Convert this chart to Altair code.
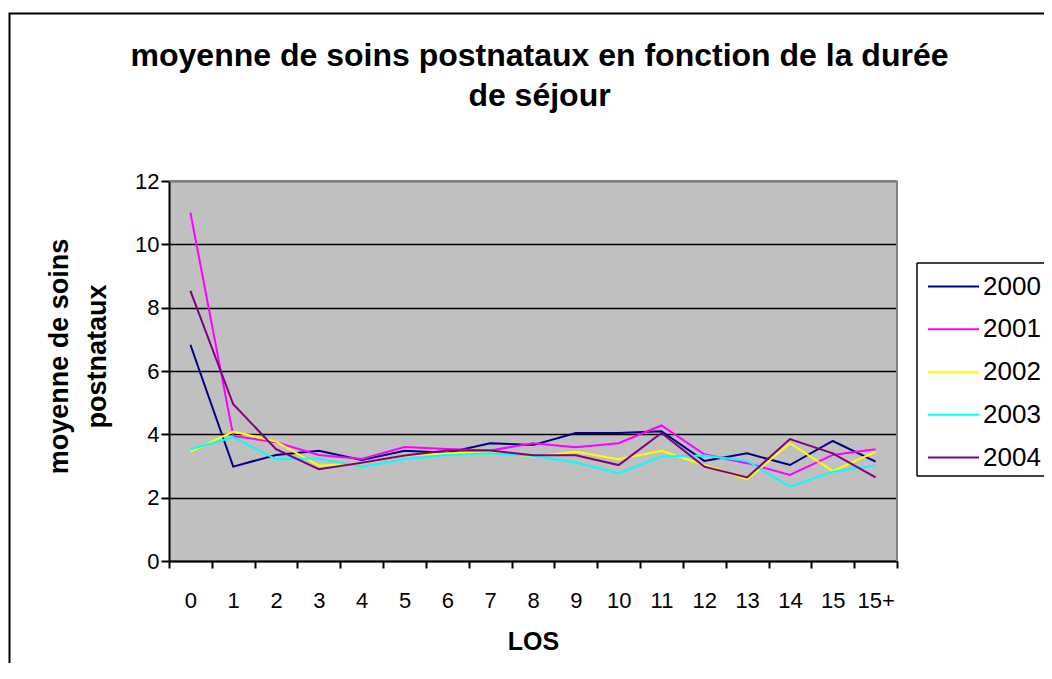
import altair as alt
import pandas as pd

# ---- data ----
categories = ["0", "1", "2", "3", "4", "5", "6", "7", "8", "9", "10",
              "11", "12", "13", "14", "15", "15+"]
years = ["2000", "2001", "2002", "2003", "2004"]
v2000 = [6.83, 2.98, 3.35, 3.48, 3.19, 3.48, 3.42, 3.72, 3.66, 4.04, 4.04, 4.10, 3.16, 3.40, 3.03, 3.79, 3.14]
v2001 = [11.0, 3.95, 3.75, 3.35, 3.22, 3.60, 3.54, 3.49, 3.72, 3.59, 3.72, 4.28, 3.37, 3.09, 2.72, 3.35, 3.53]
v2002 = [3.45, 4.09, 3.77, 3.01, 3.09, 3.33, 3.40, 3.44, 3.30, 3.45, 3.21, 3.48, 3.03, 2.58, 3.72, 2.84, 3.45]
v2003 = [3.53, 3.91, 3.21, 3.24, 2.98, 3.21, 3.35, 3.40, 3.32, 3.11, 2.77, 3.30, 3.33, 3.16, 2.35, 2.82, 3.02]
v2004 = [8.53, 4.95, 3.53, 2.90, 3.10, 3.33, 3.49, 3.49, 3.34, 3.34, 3.03, 4.04, 2.98, 2.64, 3.85, 3.40, 2.64]
colors = ["#000080", "#FF00FF", "#FFFF00", "#00FFFF", "#800080"]
y_ticks = [0, 2, 4, 6, 8, 10, 12]

title_lines = ["moyenne de soins postnataux en fonction de la durée", "de séjour"]
y_title = ["moyenne de soins", "postnataux"]
x_title = "LOS"

rows = []
for yr, vals in zip(years, [v2000, v2001, v2002, v2003, v2004]):
    for c, v in zip(categories, vals):
        rows.append({"LOS": c, "year": yr, "value": v})
df = pd.DataFrame(rows)

FONT = "Liberation Sans"
W, H = 728, 380

lines = alt.Chart(df).mark_line(strokeWidth=2).encode(
    x=alt.X("LOS:N", sort=categories, bandPosition=0.5,
            scale=alt.Scale(type="band", paddingInner=0, paddingOuter=0),
            axis=alt.Axis(title=x_title, labelAngle=0, tickBand="extent", grid=False,
                          tickSize=7, tickWidth=2, tickColor="black",
                          domainColor="black", domainWidth=2,
                          labelFont=FONT, labelFontSize=22, labelColor="black", labelPadding=22,
                          titleFont=FONT, titleFontSize=25, titleFontWeight="bold", titleColor="black",
                          titleY=80, titleBaseline="middle")),
    y=alt.Y("value:Q", scale=alt.Scale(domain=[0, 12], nice=False),
            axis=alt.Axis(title=y_title, values=y_ticks, grid=True, gridColor="black", gridWidth=1.5,
                          tickSize=8, tickWidth=2, tickColor="black",
                          domainColor="black", domainWidth=2,
                          labelFont=FONT, labelFontSize=22, labelColor="black", labelPadding=2,
                          titleFont=FONT, titleFontSize=27, titleFontWeight="bold", titleColor="black",
                          titleLineHeight=38, titleX=-110, titleY=175, titleAlign="center",
                          titleBaseline="middle", titleAngle=270)),
    color=alt.Color("year:N", scale=alt.Scale(domain=years, range=colors),
                    legend=alt.Legend(title=None, orient="none", legendX=758, legendY=79,
                                      direction="vertical", symbolType="stroke", symbolSize=2601,
                                      symbolStrokeWidth=2, labelFont=FONT, labelFontSize=26,
                                      labelColor="black", strokeColor="transparent",
                                      padding=0, rowPadding=2.75, labelOffset=3, symbolOffset=0)),
)

one = pd.DataFrame({"k": [0]})
rule = dict(color="black", strokeWidth=1.5)
leg_left = alt.Chart(one).mark_rule(**rule).encode(
    x=alt.value(748), y=alt.value(82), y2=alt.value(295))
leg_top = alt.Chart(one).mark_rule(**rule).encode(
    x=alt.value(748), x2=alt.value(1000), y=alt.value(82))
leg_bottom = alt.Chart(one).mark_rule(**rule).encode(
    x=alt.value(748), x2=alt.value(1000), y=alt.value(295))
top_edge = alt.Chart(one).mark_rule(color="#808080", strokeWidth=2).encode(
    x=alt.value(0), x2=alt.value(W), y=alt.value(0))
right_edge = alt.Chart(one).mark_rule(color="#808080", strokeWidth=2).encode(
    x=alt.value(W), y=alt.value(0), y2=alt.value(H))
frame = alt.Chart(one).mark_rect(fill="transparent", stroke="black", strokeWidth=2).encode(
    x=alt.value(-159.5), x2=alt.value(1000), y=alt.value(-167.5), y2=alt.value(700))
title = alt.Chart(one).mark_text(font=FONT, fontSize=32, fontWeight="bold", color="black",
                                 align="center", baseline="alphabetic", lineHeight=40).encode(
    x=alt.value(370.5), y=alt.value(-114.7), text=alt.value(title_lines))

chart = alt.layer(frame, title, leg_left, leg_top, leg_bottom, top_edge, right_edge, lines).properties(
    width=W, height=H,
    autosize="none",
    padding={"left": 161, "top": 173, "right": 147, "bottom": 102},
).configure_view(fill="#C0C0C0", stroke="transparent")

chart.save("out.html", embed_options={"renderer": "svg", "actions": False})
